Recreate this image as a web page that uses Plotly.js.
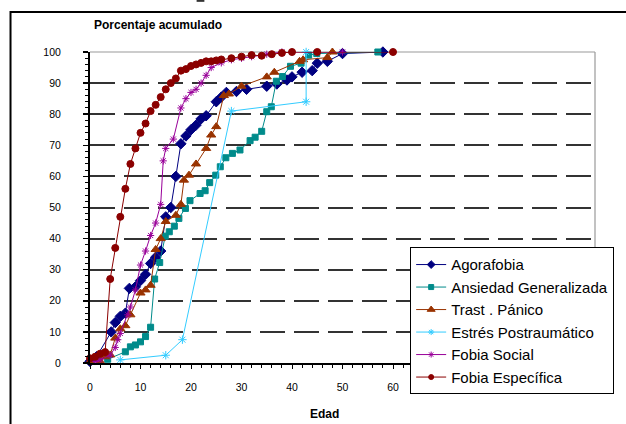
<!DOCTYPE html>
<html>
<head>
<meta charset="utf-8">
<script src="https://cdn.plot.ly/plotly-3.0.1.min.js"></script>
<style>
html,body{margin:0;padding:0;background:#fff;}
#chart{width:626px;height:424px;}
</style>
</head>
<body>
<div id="chart"></div>
<script>
// ---- Data ----
const seriesNames = ["Agorafobia", "Ansiedad Generalizada", "Trast . Pánico", "Estrés Postraumático", "Fobia Social", "Fobia Específica"];

const agoraX = [0, 1.3, 4.2, 5, 6, 7, 7.8, 9, 10, 11, 12, 13, 14, 15, 16, 17, 18, 19, 20, 21, 22, 23, 25, 26, 27, 29, 31, 35, 37, 39, 40, 42, 44, 45, 47, 50, 58];
const agoraY = [0.5, 2, 10, 13, 15, 16, 24, 24.5, 26.5, 28.5, 32, 34, 36, 47, 50, 60, 70.5, 73, 75, 76.5, 78.5, 79.5, 84, 85.5, 87, 87.3, 88, 89, 89.7, 91, 92, 93.5, 94, 96.4, 97, 99.5, 100];

const ansiedadX = [3.5, 7, 8, 9, 10, 11, 12, 12.8, 13.8, 14.9, 15.7, 16.7, 17.6, 18.9, 19.8, 21.8, 22.8, 23.7, 24.9, 25.8, 26.9, 28.2, 29.7, 31.7, 32.7, 34, 35, 35.9, 36.9, 38.1, 39.7, 41.8, 43.3, 44.9, 57];
const ansiedadY = [1.2, 3.6, 5.2, 5.8, 6.8, 8.5, 11.5, 27, 32.3, 40.8, 42.2, 44, 46.5, 49.7, 52.2, 54.5, 55.4, 58, 60.4, 63.1, 66, 67.4, 68.5, 71.5, 72.6, 74.5, 80.8, 82.4, 90.6, 92.1, 95.4, 96.4, 99, 99.5, 100];

const panicoX = [0, 2, 3, 4, 5, 6, 7, 8, 10, 11, 12, 13, 14, 15, 17, 18, 18.6, 19.6, 21, 23, 24, 25, 26.5, 27.5, 30, 35, 36.5, 41.5, 42.2, 47, 48];
const panicoY = [0.5, 0.5, 2, 2.6, 8, 11, 12, 15.5, 22.5, 23.5, 25, 36.5, 40, 45.5, 47.5, 51, 58.8, 60.4, 64, 69, 73.3, 76, 86, 86.5, 89, 92, 93.5, 97, 97.5, 98.2, 100];

const estresX = [6, 15, 18.3, 28, 42.8, 42.8];
const estresY = [1, 2.5, 7.5, 81, 84, 100];

const socialX = [1, 2, 4, 5, 5.5, 6, 7.5, 8, 9, 10, 11, 12, 13, 14, 14.5, 15, 16.5, 18, 19, 20, 21, 22, 23, 24, 26, 28, 30, 32, 35, 38, 50];
const socialY = [0.5, 1, 2.5, 5, 7.5, 9.5, 15.5, 18, 23.5, 31.5, 36, 41, 45, 51, 65, 69, 72, 82, 85, 87, 88, 90, 92.5, 95, 96.5, 97.5, 98, 98.5, 99.3, 100, 100];

const especX = [0, 1, 2, 3, 4, 5, 6, 7, 8, 9, 10, 11, 12, 13, 14, 15, 16, 17, 18, 19, 20, 21, 22, 23, 24, 25, 26, 28, 30, 32, 34, 36, 38, 40, 45, 60];
const especY = [1.5, 2, 3, 3.5, 27, 37, 47, 56, 64, 69, 74, 77, 81, 83, 85.5, 88, 90, 91.5, 94, 94.5, 95.5, 96, 96.5, 97, 97, 97.3, 97.6, 98, 98.5, 99, 98.8, 99.3, 99.7, 100, 100, 100];

const xTickVals = [0, 10, 20, 30, 40, 50, 60];
const yTickVals = [0, 10, 20, 30, 40, 50, 60, 70, 80, 90, 100];

// ---- Styles ----
const FONT = "Liberation Sans, Arial, sans-serif";
const styles = [
  {color: "#000080", symbol: "diamond", size: 8, lsize: 6},
  {color: "#008B8B", symbol: "square", size: 6, lsize: 5},
  {color: "#993300", symbol: "triangle-up", size: 8, lsize: 7},
  {color: "#33CCFF", symbol: "asterisk-open", size: 7, lsize: 5},
  {color: "#990099", symbol: "asterisk-open", size: 6, lsize: 5},
  {color: "#8B0000", symbol: "circle", size: 7, lsize: 5}
];
const xs = [agoraX, ansiedadX, panicoX, estresX, socialX, especX];
const ys = [agoraY, ansiedadY, panicoY, estresY, socialY, especY];

const data = [];
xs.forEach((x, i) => {
  const s = styles[i];
  data.push({
    type: "scatter", mode: "lines+markers", x: x, y: ys[i], name: seriesNames[i],
    showlegend: false, cliponaxis: false,
    line: {color: s.color, width: 1},
    marker: {color: s.color, symbol: s.symbol, size: s.size, line: {color: s.color, width: 1}}
  });
});
xs.forEach((x, i) => {
  const s = styles[i];
  data.push({
    type: "scatter", mode: "lines+markers", x: [null], y: [null], name: seriesNames[i],
    showlegend: true,
    line: {color: s.color, width: 1},
    marker: {color: s.color, symbol: s.symbol, size: s.lsize, line: {color: s.color, width: 1}}
  });
});

const layout = {
  width: 626, height: 424,
  margin: {l: 90, r: 15, t: 52, b: 61},
  paper_bgcolor: "#fff", plot_bgcolor: "#fff",
  font: {family: FONT, size: 10.5, color: "#000"},
  showlegend: true,
  legend: {
    x: 0.634, y: 0.372, xanchor: "left", yanchor: "top",
    bgcolor: "#fff", bordercolor: "#000", borderwidth: 1,
    font: {family: FONT, size: 15, color: "#000"},
    itemwidth: 30
  },
  xaxis: {
    range: [0, 100], tickvals: xTickVals, ticktext: xTickVals.map(String),
    showgrid: false, zeroline: false,
    showline: true, linecolor: "#000", linewidth: 2,
    ticks: "outside", ticklen: 4, tickwidth: 1, tickcolor: "#000",
    ticklabelstandoff: 9,
    minor: {dtick: 2, ticks: "outside", ticklen: 3, tickwidth: 1, tickcolor: "#000", showgrid: false},
    tickfont: {family: FONT, size: 10.5, color: "#000"}
  },
  yaxis: {
    range: [0, 100], tickvals: yTickVals, ticktext: yTickVals.map(String),
    showgrid: true, gridcolor: "#333", gridwidth: 2, griddash: "25px,9px",
    zeroline: false,
    showline: true, linecolor: "#000", linewidth: 2,
    ticks: "outside", ticklen: 5, tickwidth: 1.5, tickcolor: "#000",
    ticklabelstandoff: 20,
    minor: {dtick: 2, ticks: "outside", ticklen: 3, tickwidth: 1, tickcolor: "#000", showgrid: false},
    tickfont: {family: FONT, size: 10.5, color: "#000"}
  },
  shapes: [
    {type: "line", xref: "paper", yref: "paper", x0: 0.004, x1: 1, y0: 1, y1: 1, layer: "between", line: {color: "#fff", width: 4}},
    {type: "line", xref: "paper", yref: "paper", x0: 0, x1: 1, y0: 1, y1: 1, layer: "between", line: {color: "#999", width: 1.2}},
    {type: "line", xref: "paper", yref: "paper", x0: 1, x1: 1, y0: 0, y1: 1, layer: "between", line: {color: "#999", width: 1.2}},
    {type: "rect", xref: "paper", yref: "paper", x0: -0.1574, x1: 1.07, y0: -0.26, y1: 1.1286, layer: "above", line: {color: "#000", width: 2}, fillcolor: "rgba(0,0,0,0)"},
    {type: "line", xref: "paper", yref: "paper", x0: 0.2111, x1: 0.2265, y0: 1.1645, y1: 1.1645, layer: "above", line: {color: "#333", width: 2}}
  ],
  annotations: [
    {text: "<b>Porcentaje acumulado</b>", xref: "paper", yref: "paper", x: 0.0038, y: 1.0868, xanchor: "left", yanchor: "middle", showarrow: false, font: {family: FONT, size: 12, color: "#000"}},
    {text: "<b>Edad</b>", xref: "paper", yref: "paper", x: 0.4645, y: -0.164, xanchor: "center", yanchor: "middle", showarrow: false, font: {family: FONT, size: 12, color: "#000"}}
  ]
};

Plotly.newPlot("chart", data, layout, {displayModeBar: false, staticPlot: true});
</script>
</body>
</html>
